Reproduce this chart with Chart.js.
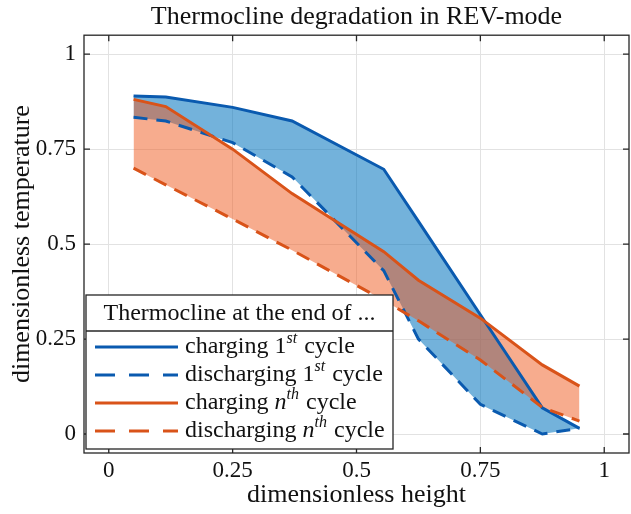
<!DOCTYPE html>
<html>
<head>
<meta charset="utf-8">
<script src="https://cdn.jsdelivr.net/npm/chart.js@4"></script>
<style>
  html, body { margin: 0; padding: 0; background: #fff; }
  #wrap { width: 631px; height: 514px; }
</style>
</head>
<body>
<div id="wrap"><canvas id="chart"></canvas></div>
<script>
// dimensionless height of the sampled points
const heights = [0.05, 0.115, 0.25, 0.37, 0.555, 0.625, 0.75, 0.875, 0.95];

// dimensionless temperature at the end of each phase
const charging1st    = [0.890, 0.887, 0.860, 0.824, 0.697, 0.560, 0.314, 0.069, 0.015];
const discharging1st = [0.834, 0.824, 0.767, 0.677, 0.430, 0.250, 0.078, 0.000, 0.015];
const chargingNth    = [0.881, 0.862, 0.750, 0.633, 0.480, 0.405, 0.305, 0.182, 0.126];
const dischargingNth = [0.700, 0.656, 0.566, 0.484, 0.352, 0.298, 0.195, 0.070, 0.034];

const tickValues = [0, 0.25, 0.5, 0.75, 1];

const blue = 'rgb(10, 90, 175)';
const orange = 'rgb(217, 83, 25)';
const serif = '"Liberation Serif", "DejaVu Serif", serif';

const pts = arr => arr.map((v, i) => ({x: heights[i], y: v}));

// legend rows: dataset index + text pieces (sup = superscript, it = italic)
const legendTitle = 'Thermocline at the end of ...';
const legendRows = [
  {ds: 2, parts: [['charging 1'], ['st', 'sup'], [' cycle']]},
  {ds: 3, parts: [['discharging 1'], ['st', 'sup'], [' cycle']]},
  {ds: 0, parts: [['charging '], ['n', 'it'], ['th', 'sup'], [' cycle']]},
  {ds: 1, parts: [['discharging '], ['n', 'it'], ['th', 'sup'], [' cycle']]}
];

const frame = {
  id: 'frame',
  afterDraw(chart) {
    const {ctx, chartArea: a, scales} = chart;
    ctx.save();
    ctx.strokeStyle = '#262626';
    ctx.lineWidth = 1.3;
    ctx.strokeRect(a.left, a.top, a.right - a.left, a.bottom - a.top);
    // inward tick marks on all four sides
    const len = 6;
    ctx.beginPath();
    tickValues.forEach(v => {
      const x = scales.x.getPixelForValue(v);
      ctx.moveTo(x, a.bottom); ctx.lineTo(x, a.bottom - len);
      ctx.moveTo(x, a.top); ctx.lineTo(x, a.top + len);
      const y = scales.y.getPixelForValue(v);
      ctx.moveTo(a.left, y); ctx.lineTo(a.left + len, y);
      ctx.moveTo(a.right, y); ctx.lineTo(a.right - len, y);
    });
    ctx.stroke();

    // legend box inside the axes, lower left
    const bx = 86, by = 295, bw = 307, bh = 154, titleH = 36, rowH = 28;
    ctx.fillStyle = '#fff';
    ctx.fillRect(bx, by, bw, bh);
    ctx.strokeRect(bx, by, bw, bh);
    ctx.beginPath();
    ctx.moveTo(bx, by + titleH); ctx.lineTo(bx + bw, by + titleH);
    ctx.stroke();
    ctx.fillStyle = '#111';
    ctx.textBaseline = 'middle';
    ctx.textAlign = 'center';
    ctx.font = '24px ' + serif;
    ctx.fillText(legendTitle, bx + bw / 2, by + titleH / 2 + 1);
    ctx.textAlign = 'left';
    legendRows.forEach((row, i) => {
      const y = by + titleH + 16 + i * rowH;
      const ds = chart.data.datasets[row.ds];
      ctx.strokeStyle = ds.borderColor;
      ctx.lineWidth = 3;
      ctx.setLineDash(ds.borderDash.length ? [20, 14] : []);
      ctx.beginPath();
      ctx.moveTo(bx + 9, y); ctx.lineTo(bx + 92, y);
      ctx.stroke();
      ctx.setLineDash([]);
      let x = bx + 99;
      row.parts.forEach(([t, kind]) => {
        let dy = 0;
        if (kind === 'sup') { ctx.font = 'italic 16px ' + serif; dy = -8; }
        else if (kind === 'it') { ctx.font = 'italic 24px ' + serif; }
        else { ctx.font = '24px ' + serif; }
        ctx.fillText(t, x, y + dy);
        x += ctx.measureText(t).width + (kind === 'sup' ? 1 : 0);
      });
    });
    ctx.restore();
  }
};

const axisCommon = {
  type: 'linear',
  min: -0.05,
  max: 1.05,
  afterBuildTicks: s => { s.ticks = tickValues.map(v => ({value: v})); },
  grid: {color: '#e2e2e2', lineWidth: 1, drawTicks: false},
  border: {display: false},
  ticks: {
    color: '#111',
    font: {family: serif, size: 23},
    callback: v => String(v)
  }
};

new Chart(document.getElementById('chart'), {
  type: 'line',
  data: {
    datasets: [
      {label: 'charging nth cycle', data: pts(chargingNth), borderColor: orange, borderDash: [],
       backgroundColor: 'rgba(240, 90, 30, 0.5)', fill: '+1'},
      {label: 'discharging nth cycle', data: pts(dischargingNth), borderColor: orange, borderDash: [14, 9],
       fill: false},
      {label: 'charging 1st cycle', data: pts(charging1st), borderColor: blue, borderDash: [],
       backgroundColor: 'rgba(0, 114, 189, 0.55)', fill: '+1'},
      {label: 'discharging 1st cycle', data: pts(discharging1st), borderColor: blue, borderDash: [14, 9],
       fill: false}
    ]
  },
  options: {
    responsive: true,
    maintainAspectRatio: false,
    animation: false,
    layout: {padding: {left: 0, right: 2, top: 0, bottom: 0}},
    elements: {
      line: {borderWidth: 3, tension: 0},
      point: {radius: 0, hoverRadius: 0}
    },
    plugins: {
      filler: {drawTime: 'beforeDatasetsDraw'},
      legend: {display: false},
      tooltip: {enabled: false},
      title: {
        display: true,
        fullSize: false,
        text: 'Thermocline degradation in REV-mode',
        color: '#111',
        font: {family: serif, size: 26, weight: 'normal'},
        padding: {top: 2, bottom: 2}
      }
    },
    scales: {
      x: {
        ...axisCommon,
        afterFit: s => { s.height = 61; },
        ticks: {...axisCommon.ticks, padding: 4, maxRotation: 0},
        title: {display: true, text: 'dimensionless height', color: '#111',
                font: {family: serif, size: 26}, padding: {top: 0, bottom: 3}}
      },
      y: {
        ...axisCommon,
        afterFit: s => { s.width = 84; },
        ticks: {...axisCommon.ticks, padding: 8},
        title: {display: true, text: 'dimensionless temperature', color: '#111',
                font: {family: serif, size: 26}, padding: {top: 7, bottom: 0}}
      }
    }
  },
  plugins: [frame]
});
</script>
</body>
</html>
